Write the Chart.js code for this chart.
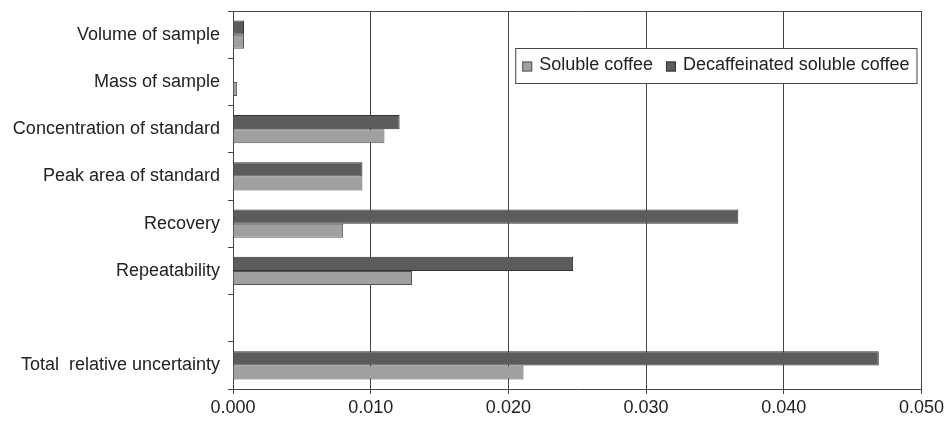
<!DOCTYPE html>
<html>
<head>
<meta charset="utf-8">
<script src="https://cdn.jsdelivr.net/npm/chart.js@4/dist/chart.umd.min.js"></script>
<style>
  body { margin: 0; background: #ffffff; }
  canvas { display: block; }
</style>
</head>
<body>
<canvas id="uncChart" width="947" height="421"></canvas>
<script>
const categories = [
    "Volume of sample",
    "Mass of sample",
    "Concentration of standard",
    "Peak area of standard",
    "Recovery",
    "Repeatability",
    "",
    "Total  relative uncertainty",
];
const solubleCoffee = [0.0008, 0.0003, 0.0110, 0.0094, 0.0080, 0.0130, null, 0.0211];
const decafCoffee = [0.0008, 0.0, 0.0121, 0.0094, 0.0367, 0.0247, null, 0.0469];
const xTicks = [0.000, 0.010, 0.020, 0.030, 0.040, 0.050];

const FONT = "'Liberation Sans', Arial, sans-serif";
const LINE = "#444444";

// frame round the plot + legend box inside the plot
const framePlugin = {
    id: "frame",
    afterDraw(chart) {
        const { ctx, chartArea } = chart;
        ctx.save();
        ctx.strokeStyle = LINE;
        ctx.lineWidth = 1;
        ctx.beginPath();
        ctx.moveTo(chartArea.left, chartArea.top + 0.5);
        ctx.lineTo(chartArea.right, chartArea.top + 0.5);
        ctx.stroke();

        // legend, soluble first
        const items = [chart.data.datasets[1], chart.data.datasets[0]];
        ctx.font = "18px " + FONT;
        const box = 10, gapBox = 7, gapItem = 13, padX = 7;
        let w = padX * 2;
        items.forEach((ds, i) => {
            w += box + gapBox + ctx.measureText(ds.label).width + (i ? 0 : gapItem);
        });
        const h = 35;
        const x0 = chartArea.right - 5 - w;
        const y0 = chartArea.top + 37;
        ctx.fillStyle = "#ffffff";
        ctx.fillRect(x0, y0, w, h);
        ctx.strokeRect(x0 + 0.5, y0 + 0.5, w, h);
        let x = x0 + padX;
        const cy = y0 + h / 2;
        items.forEach(ds => {
            ctx.fillStyle = ds.backgroundColor;
            ctx.fillRect(x, cy - box / 2 + 1, box, box);
            ctx.strokeStyle = ds.borderColor;
            ctx.strokeRect(x + 0.5, cy - box / 2 + 1.5, box - 1, box - 1);
            x += box + gapBox;
            ctx.fillStyle = "#222222";
            ctx.textBaseline = "middle";
            ctx.fillText(ds.label, x, cy);
            x += ctx.measureText(ds.label).width + gapItem;
        });
        ctx.restore();
    }
};

new Chart(document.getElementById("uncChart"), {
    type: "bar",
    data: {
        labels: categories,
        datasets: [{
            label: "Decaffeinated soluble coffee",
            data: decafCoffee,
            backgroundColor: "#5c5c5c",
            borderColor: "#333333",
            borderWidth: 1,
        }, {
            label: "Soluble coffee",
            data: solubleCoffee,
            backgroundColor: "#a0a0a0",
            borderColor: "#555555",
            borderWidth: 1,
        }]
    },
    options: {
        indexAxis: "y",
        responsive: false,
        animation: false,
        categoryPercentage: 0.6,
        barPercentage: 1.0,
        layout: { padding: { top: 11, right: 0, left: 0, bottom: 0 } },
        plugins: {
            legend: { display: false },
            tooltip: { enabled: false },
        },
        scales: {
            x: {
                min: 0,
                max: 0.05,
                afterFit: scale => { scale.height = 32; },
                afterBuildTicks: scale => { scale.ticks = xTicks.map(v => ({ value: v })); },
                ticks: {
                    callback: v => Number(v).toFixed(3),
                    color: "#222222",
                    font: { family: FONT, size: 18 },
                    padding: 3,
                    maxRotation: 0,
                },
                grid: { color: LINE, lineWidth: 1, tickLength: 5 },
                border: { color: LINE },
            },
            y: {
                afterFit: scale => {
                    scale.width = 233;
                    scale.paddingTop = 0;
                    scale.paddingBottom = 0;
                },
                ticks: {
                    color: "#222222",
                    font: { family: FONT, size: 18 },
                    padding: 8,
                },
                grid: { drawOnChartArea: false, color: LINE, tickLength: 5 },
                border: { color: LINE },
            }
        }
    },
    plugins: [framePlugin],
});
</script>
</body>
</html>
